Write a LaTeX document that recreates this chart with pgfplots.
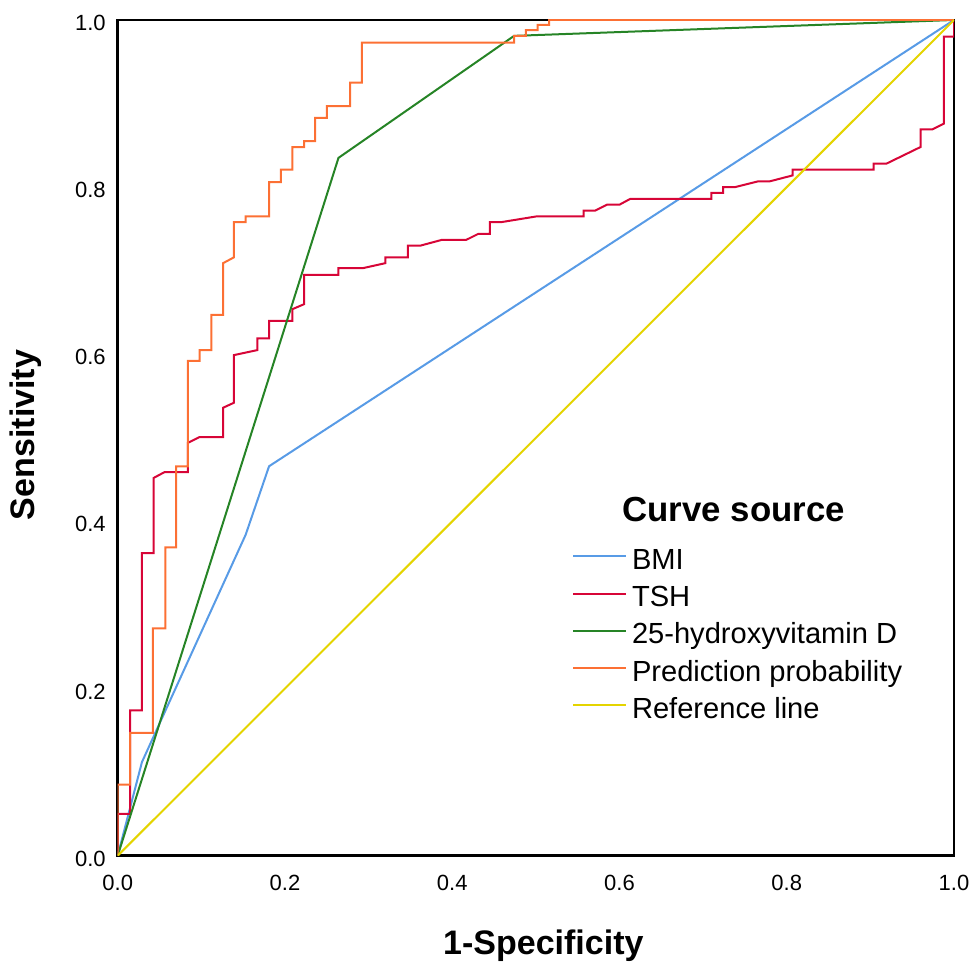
\documentclass[border=0pt]{standalone}
\usepackage{pgfplots}
\pgfplotsset{compat=1.18}
\usepackage{fontspec}
\setmainfont{Liberation Sans}

\definecolor{bmiblue}{RGB}{88,155,230}
\definecolor{tshred}{RGB}{215,5,55}
\definecolor{vitgreen}{RGB}{38,132,38}
\definecolor{predorange}{RGB}{252,112,52}
\definecolor{refyellow}{RGB}{228,212,0}

\begin{document}
\begin{tikzpicture}
% page = 975x967 px at 0.5pt per px
\path[use as bounding box] (-58.85pt,-55.65pt) rectangle (428.65pt,427.85pt);
\begin{axis}[
    scale only axis,
    width=418.15pt,
    height=417.85pt,
    xmin=0, xmax=1,
    ymin=0, ymax=1,
    axis line style={line width=1.2pt},
    major tick length=0pt,
    xtick={0,0.2,0.4,0.6,0.8,1},
    ytick={0,0.2,0.4,0.6,0.8,1},
    /pgf/number format/assume math mode=true,
    /pgf/number format/fixed,
    /pgf/number format/fixed zerofill,
    /pgf/number format/precision=1,
    tick label style={font=\fontsize{11}{11}\selectfont},
    xticklabel style={yshift=-6pt},
    yticklabel style={xshift=-2.5pt, yshift=-1.5pt},
    xlabel={1-Specificity},
    ylabel={Sensitivity},
    label style={font=\bfseries\fontsize{17}{17}\selectfont},
    xlabel style={at={(axis description cs:0.509,-0.118)}, anchor=base},
    ylabel style={at={(axis description cs:-0.0995,0.5034)}, anchor=base},
    every axis plot/.append style={line width=1pt},
    legend cell align=left,
    legend image code/.code={\draw[#1] (0pt,0.4em) -- (26.3pt,0.4em);},
    legend style={
        at={(axis cs:0.543,0.361)}, anchor=north west,
        draw=none, fill=none, inner sep=0pt,
        font=\fontsize{14.55}{14.55}\selectfont,
        row sep=8.6pt, column sep=2.6pt,
        nodes={inner sep=0pt, text height=0.75em, text depth=0.25em},
    },
]

\addplot[bmiblue] coordinates {
    (0,0) (0.029,0.112) (0.153,0.384) (0.181,0.466) (1,1)
};
\addlegendentry{BMI}

\addplot[tshred] coordinates {
    (0,0) (0,0.050) (0.015,0.050) (0.015,0.174) (0.029,0.174)
    (0.029,0.362) (0.043,0.362) (0.043,0.452) (0.056,0.459) (0.084,0.459)
    (0.084,0.494) (0.098,0.501) (0.126,0.501) (0.126,0.536) (0.139,0.542)
    (0.139,0.599) (0.167,0.605) (0.167,0.619) (0.181,0.619) (0.181,0.640)
    (0.209,0.640) (0.209,0.654) (0.223,0.660) (0.223,0.695) (0.264,0.695)
    (0.264,0.703) (0.293,0.703) (0.320,0.709) (0.320,0.716) (0.347,0.716)
    (0.347,0.730) (0.362,0.730) (0.388,0.737) (0.417,0.737) (0.431,0.744)
    (0.445,0.744) (0.445,0.758) (0.458,0.758) (0.501,0.765) (0.557,0.765)
    (0.557,0.772) (0.571,0.772) (0.585,0.779) (0.600,0.779) (0.613,0.786)
    (0.710,0.786) (0.710,0.793) (0.724,0.793) (0.724,0.800) (0.738,0.800)
    (0.766,0.807) (0.780,0.807) (0.807,0.814) (0.807,0.821) (0.904,0.821)
    (0.904,0.828) (0.919,0.828) (0.960,0.848) (0.960,0.869) (0.974,0.869)
    (0.988,0.876) (0.988,0.980) (1,0.980) (1,1)
};
\addlegendentry{TSH}

\addplot[vitgreen] coordinates {
    (0,0) (0.264,0.835) (0.474,0.981) (1,1)
};
\addlegendentry{25-hydroxyvitamin D}

\addplot[predorange] coordinates {
    (0,0) (0,0.085) (0.015,0.085) (0.015,0.147) (0.042,0.147)
    (0.042,0.272) (0.057,0.272) (0.057,0.369) (0.070,0.369) (0.070,0.466)
    (0.084,0.466) (0.084,0.592) (0.098,0.592) (0.098,0.605) (0.112,0.605)
    (0.112,0.647) (0.126,0.647) (0.126,0.709) (0.139,0.716) (0.139,0.758)
    (0.153,0.758) (0.153,0.765) (0.181,0.765) (0.181,0.806) (0.195,0.806)
    (0.195,0.821) (0.209,0.821) (0.209,0.848) (0.223,0.848) (0.223,0.855)
    (0.236,0.855) (0.236,0.883) (0.250,0.883) (0.250,0.897) (0.278,0.897)
    (0.278,0.925) (0.292,0.925) (0.292,0.973) (0.474,0.973) (0.474,0.981)
    (0.488,0.981) (0.488,0.988) (0.502,0.988) (0.502,0.994) (0.516,0.994)
    (0.516,1) (1,1)
};
\addlegendentry{Prediction probability}

\addplot[refyellow] coordinates {(0,0) (1,1)};
\addlegendentry{Reference line}

\node[anchor=base, font=\bfseries\fontsize{17.4}{17.4}\selectfont]
    at (axis cs:0.7367,0.3997) {Curve source};
\end{axis}
\end{tikzpicture}
\end{document}
